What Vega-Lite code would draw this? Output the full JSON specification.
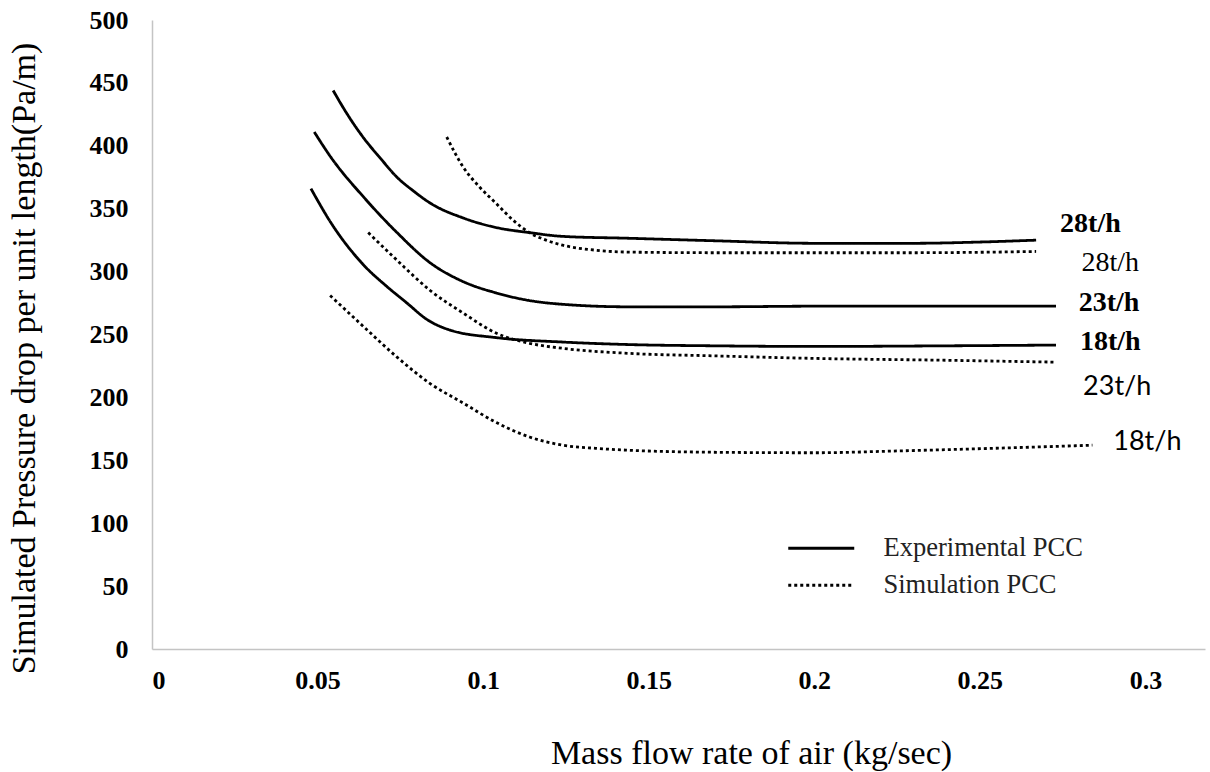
{
  "$schema": "https://vega.github.io/schema/vega-lite/v6.json",
  "width": 1053,
  "height": 629,
  "autosize": {"type": "none"},
  "padding": {"left": 152, "top": 20, "right": 5, "bottom": 123},
  "background": "white",
  "config": {
    "view": {"stroke": null},
    "font": "Liberation Serif"
  },
  "datasets": {
    "curves": [
      {"series": "Exp 28t/h", "type": "Experimental PCC", "x": 0.0547, "y": 444},
      {"series": "Exp 28t/h", "type": "Experimental PCC", "x": 0.059, "y": 425},
      {"series": "Exp 28t/h", "type": "Experimental PCC", "x": 0.0637, "y": 407},
      {"series": "Exp 28t/h", "type": "Experimental PCC", "x": 0.069, "y": 390},
      {"series": "Exp 28t/h", "type": "Experimental PCC", "x": 0.074, "y": 375},
      {"series": "Exp 28t/h", "type": "Experimental PCC", "x": 0.079, "y": 364},
      {"series": "Exp 28t/h", "type": "Experimental PCC", "x": 0.084, "y": 354.5},
      {"series": "Exp 28t/h", "type": "Experimental PCC", "x": 0.094, "y": 342.6},
      {"series": "Exp 28t/h", "type": "Experimental PCC", "x": 0.104, "y": 335},
      {"series": "Exp 28t/h", "type": "Experimental PCC", "x": 0.114, "y": 331},
      {"series": "Exp 28t/h", "type": "Experimental PCC", "x": 0.124, "y": 328},
      {"series": "Exp 28t/h", "type": "Experimental PCC", "x": 0.144, "y": 326.5},
      {"series": "Exp 28t/h", "type": "Experimental PCC", "x": 0.17, "y": 324.5},
      {"series": "Exp 28t/h", "type": "Experimental PCC", "x": 0.2, "y": 322.5},
      {"series": "Exp 28t/h", "type": "Experimental PCC", "x": 0.23, "y": 322.5},
      {"series": "Exp 28t/h", "type": "Experimental PCC", "x": 0.25, "y": 323.5},
      {"series": "Exp 28t/h", "type": "Experimental PCC", "x": 0.267, "y": 325},

      {"series": "Sim 28t/h", "type": "Simulation PCC", "x": 0.089, "y": 407},
      {"series": "Sim 28t/h", "type": "Simulation PCC", "x": 0.094, "y": 383},
      {"series": "Sim 28t/h", "type": "Simulation PCC", "x": 0.099, "y": 367},
      {"series": "Sim 28t/h", "type": "Simulation PCC", "x": 0.104, "y": 354},
      {"series": "Sim 28t/h", "type": "Simulation PCC", "x": 0.109, "y": 341},
      {"series": "Sim 28t/h", "type": "Simulation PCC", "x": 0.114, "y": 331},
      {"series": "Sim 28t/h", "type": "Simulation PCC", "x": 0.119, "y": 325},
      {"series": "Sim 28t/h", "type": "Simulation PCC", "x": 0.124, "y": 321},
      {"series": "Sim 28t/h", "type": "Simulation PCC", "x": 0.134, "y": 317},
      {"series": "Sim 28t/h", "type": "Simulation PCC", "x": 0.144, "y": 315.5},
      {"series": "Sim 28t/h", "type": "Simulation PCC", "x": 0.17, "y": 315},
      {"series": "Sim 28t/h", "type": "Simulation PCC", "x": 0.2, "y": 315},
      {"series": "Sim 28t/h", "type": "Simulation PCC", "x": 0.23, "y": 315},
      {"series": "Sim 28t/h", "type": "Simulation PCC", "x": 0.267, "y": 316},

      {"series": "Exp 23t/h", "type": "Experimental PCC", "x": 0.049, "y": 411},
      {"series": "Exp 23t/h", "type": "Experimental PCC", "x": 0.054, "y": 391},
      {"series": "Exp 23t/h", "type": "Experimental PCC", "x": 0.064, "y": 359},
      {"series": "Exp 23t/h", "type": "Experimental PCC", "x": 0.074, "y": 331},
      {"series": "Exp 23t/h", "type": "Experimental PCC", "x": 0.084, "y": 307},
      {"series": "Exp 23t/h", "type": "Experimental PCC", "x": 0.094, "y": 292},
      {"series": "Exp 23t/h", "type": "Experimental PCC", "x": 0.104, "y": 283},
      {"series": "Exp 23t/h", "type": "Experimental PCC", "x": 0.114, "y": 277},
      {"series": "Exp 23t/h", "type": "Experimental PCC", "x": 0.124, "y": 274},
      {"series": "Exp 23t/h", "type": "Experimental PCC", "x": 0.144, "y": 272},
      {"series": "Exp 23t/h", "type": "Experimental PCC", "x": 0.17, "y": 272},
      {"series": "Exp 23t/h", "type": "Experimental PCC", "x": 0.2, "y": 272.5},
      {"series": "Exp 23t/h", "type": "Experimental PCC", "x": 0.24, "y": 272.5},
      {"series": "Exp 23t/h", "type": "Experimental PCC", "x": 0.273, "y": 272.5},

      {"series": "Exp 18t/h", "type": "Experimental PCC", "x": 0.048, "y": 366},
      {"series": "Exp 18t/h", "type": "Experimental PCC", "x": 0.054, "y": 339},
      {"series": "Exp 18t/h", "type": "Experimental PCC", "x": 0.064, "y": 305},
      {"series": "Exp 18t/h", "type": "Experimental PCC", "x": 0.071, "y": 288},
      {"series": "Exp 18t/h", "type": "Experimental PCC", "x": 0.077, "y": 275},
      {"series": "Exp 18t/h", "type": "Experimental PCC", "x": 0.083, "y": 262},
      {"series": "Exp 18t/h", "type": "Experimental PCC", "x": 0.09, "y": 253.5},
      {"series": "Exp 18t/h", "type": "Experimental PCC", "x": 0.104, "y": 247.5},
      {"series": "Exp 18t/h", "type": "Experimental PCC", "x": 0.124, "y": 244},
      {"series": "Exp 18t/h", "type": "Experimental PCC", "x": 0.144, "y": 242},
      {"series": "Exp 18t/h", "type": "Experimental PCC", "x": 0.17, "y": 241},
      {"series": "Exp 18t/h", "type": "Experimental PCC", "x": 0.2, "y": 240.5},
      {"series": "Exp 18t/h", "type": "Experimental PCC", "x": 0.24, "y": 241},
      {"series": "Exp 18t/h", "type": "Experimental PCC", "x": 0.273, "y": 241.6},

      {"series": "Sim 23t/h", "type": "Simulation PCC", "x": 0.0653, "y": 331},
      {"series": "Sim 23t/h", "type": "Simulation PCC", "x": 0.074, "y": 309},
      {"series": "Sim 23t/h", "type": "Simulation PCC", "x": 0.084, "y": 285},
      {"series": "Sim 23t/h", "type": "Simulation PCC", "x": 0.094, "y": 267},
      {"series": "Sim 23t/h", "type": "Simulation PCC", "x": 0.104, "y": 251},
      {"series": "Sim 23t/h", "type": "Simulation PCC", "x": 0.114, "y": 243},
      {"series": "Sim 23t/h", "type": "Simulation PCC", "x": 0.124, "y": 239},
      {"series": "Sim 23t/h", "type": "Simulation PCC", "x": 0.144, "y": 235},
      {"series": "Sim 23t/h", "type": "Simulation PCC", "x": 0.17, "y": 233},
      {"series": "Sim 23t/h", "type": "Simulation PCC", "x": 0.2, "y": 231},
      {"series": "Sim 23t/h", "type": "Simulation PCC", "x": 0.24, "y": 229.5},
      {"series": "Sim 23t/h", "type": "Simulation PCC", "x": 0.273, "y": 228},

      {"series": "Sim 18t/h", "type": "Simulation PCC", "x": 0.0538, "y": 281},
      {"series": "Sim 18t/h", "type": "Simulation PCC", "x": 0.064, "y": 256},
      {"series": "Sim 18t/h", "type": "Simulation PCC", "x": 0.074, "y": 232},
      {"series": "Sim 18t/h", "type": "Simulation PCC", "x": 0.084, "y": 211},
      {"series": "Sim 18t/h", "type": "Simulation PCC", "x": 0.094, "y": 195.5},
      {"series": "Sim 18t/h", "type": "Simulation PCC", "x": 0.104, "y": 180},
      {"series": "Sim 18t/h", "type": "Simulation PCC", "x": 0.114, "y": 168.5},
      {"series": "Sim 18t/h", "type": "Simulation PCC", "x": 0.124, "y": 162},
      {"series": "Sim 18t/h", "type": "Simulation PCC", "x": 0.134, "y": 159.5},
      {"series": "Sim 18t/h", "type": "Simulation PCC", "x": 0.144, "y": 158},
      {"series": "Sim 18t/h", "type": "Simulation PCC", "x": 0.166, "y": 156.5},
      {"series": "Sim 18t/h", "type": "Simulation PCC", "x": 0.2, "y": 156},
      {"series": "Sim 18t/h", "type": "Simulation PCC", "x": 0.226, "y": 157.5},
      {"series": "Sim 18t/h", "type": "Simulation PCC", "x": 0.26, "y": 160},
      {"series": "Sim 18t/h", "type": "Simulation PCC", "x": 0.284, "y": 162}
    ],
    "labels": [
      {"label": "28t/h", "style": "boldserif", "x": 0.2834, "y": 338},
      {"label": "23t/h", "style": "boldserif", "x": 0.289, "y": 275},
      {"label": "18t/h", "style": "boldserif", "x": 0.2894, "y": 244},
      {"label": "28t/h", "style": "serif", "x": 0.2894, "y": 307},
      {"label": "23t/h", "style": "sans", "x": 0.2915, "y": 208},
      {"label": "18t/h", "style": "sans", "x": 0.3006, "y": 164.5}
    ]
  },
  "layer": [
    {
      "data": {"name": "curves"},
      "mark": {"type": "line", "interpolate": "monotone", "strokeWidth": 2.8, "color": "black", "strokeCap": "butt"},
      "encoding": {
        "x": {
          "field": "x", "type": "quantitative",
          "scale": {"domain": [0, 0.318], "nice": false, "zero": false},
          "axis": {
            "title": "Mass flow rate of air (kg/sec)",
            "values": [0, 0.05, 0.1, 0.15, 0.2, 0.25, 0.3],
            "format": "~g",
            "grid": false, "ticks": false,
            "domainColor": "#c4c4c4", "domainWidth": 1.5,
            "labelFont": "Liberation Serif", "labelFontWeight": "bold", "labelFontSize": 26, "labelColor": "black",
            "labelPadding": 18,
            "titleFont": "Liberation Serif", "titleFontWeight": "normal", "titleFontSize": 34, "titleColor": "black",
            "titleX": 599, "titleY": 114, "titleAlign": "center", "titleBaseline": "alphabetic"
          }
        },
        "y": {
          "field": "y", "type": "quantitative",
          "scale": {"domain": [0, 500], "nice": false},
          "axis": {
            "title": "Simulated Pressure drop per unit length(Pa/m)",
            "values": [0, 50, 100, 150, 200, 250, 300, 350, 400, 450, 500],
            "grid": false, "ticks": false,
            "domainColor": "#c4c4c4", "domainWidth": 1.5,
            "labelFont": "Liberation Serif", "labelFontWeight": "bold", "labelFontSize": 26, "labelColor": "black",
            "labelPadding": 24,
            "titleFont": "Liberation Serif", "titleFontWeight": "normal", "titleFontSize": 34, "titleColor": "black",
            "titleX": -118, "titleY": 338, "titleAlign": "center", "titleBaseline": "alphabetic", "titleAngle": -90
          }
        },
        "detail": {"field": "series"},
        "strokeDash": {
          "field": "type", "type": "nominal",
          "scale": {"domain": ["Experimental PCC", "Simulation PCC"], "range": [[1, 0], [3, 3]]},
          "legend": {
            "title": null,
            "orient": "none",
            "legendX": 656,
            "legendY": 515,
            "symbolType": "M-3,0H3",
            "symbolSize": 484,
            "symbolStrokeWidth": 3,
            "symbolStrokeColor": "black",
            "labelFont": "Liberation Serif",
            "labelFontSize": 26.5,
            "labelColor": "#222",
            "labelLimit": 0,
            "labelOffset": 49,
            "rowPadding": 10,
            "padding": 0
          }
        }
      }
    },
    {
      "data": {"name": "labels"},
      "transform": [{"filter": "datum.style === 'boldserif'"}],
      "mark": {"type": "text", "font": "Liberation Serif", "fontWeight": "bold", "fontSize": 28, "align": "center", "baseline": "middle", "color": "black"},
      "encoding": {
        "x": {"field": "x", "type": "quantitative"},
        "y": {"field": "y", "type": "quantitative"},
        "text": {"field": "label"}
      }
    },
    {
      "data": {"name": "labels"},
      "transform": [{"filter": "datum.style === 'serif'"}],
      "mark": {"type": "text", "font": "Liberation Serif", "fontSize": 28, "align": "center", "baseline": "middle", "color": "black"},
      "encoding": {
        "x": {"field": "x", "type": "quantitative"},
        "y": {"field": "y", "type": "quantitative"},
        "text": {"field": "label"}
      }
    },
    {
      "data": {"name": "labels"},
      "transform": [{"filter": "datum.style === 'sans'"}],
      "mark": {"type": "text", "font": "Lato", "fontSize": 27, "align": "center", "baseline": "middle", "color": "black"},
      "encoding": {
        "x": {"field": "x", "type": "quantitative"},
        "y": {"field": "y", "type": "quantitative"},
        "text": {"field": "label"}
      }
    }
  ]
}
